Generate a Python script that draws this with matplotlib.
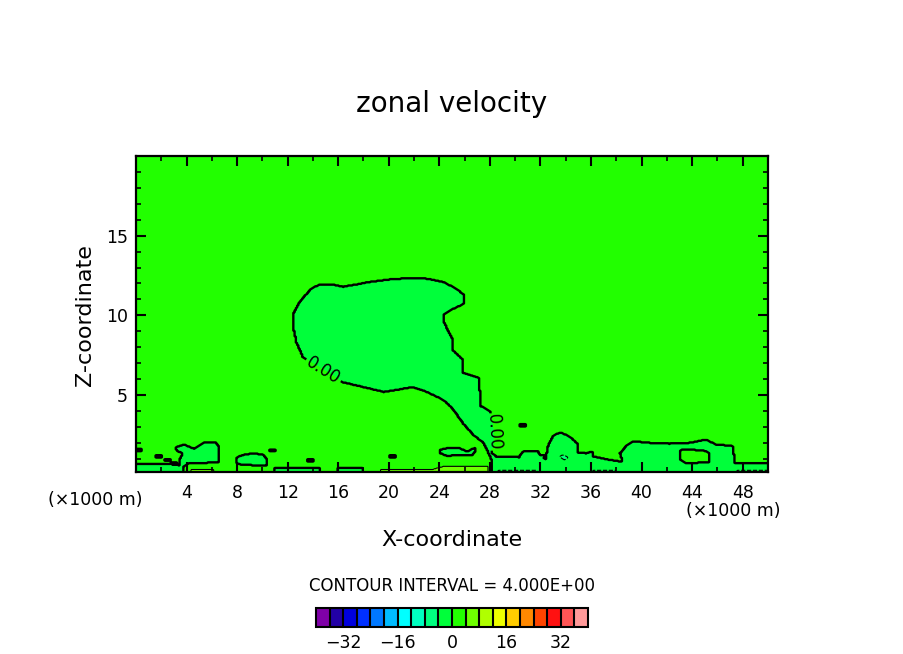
import numpy as np
import matplotlib
matplotlib.use('Agg')
import matplotlib.pyplot as plt
from matplotlib.path import Path

plt.rcParams['font.family'] = ['DejaVu Sans']

# 色阶：-40 到 40，间隔 4（共 20 色）
levels = np.arange(-40, 44, 4)
level_colors = ['#7f00a8', '#2200a6', '#0000dd', '#0030ff', '#0078ff',
                '#00bbff', '#00ffff', '#00ffc0', '#00ff80', '#00ff3a',
                '#22ff00', '#6eff00', '#b0ff00', '#eeff00', '#ffcc00',
                '#ff8800', '#ff4400', '#ff1111', '#ff5555', '#ff9999']
cbar_ticks = [-32, -16, 0, 16, 32]
xticks_major = [4, 8, 12, 16, 20, 24, 28, 32, 36, 40, 44, 48]
yticks_major = [5, 10, 15]

# 背景风速 (0~4 之间)
background_u = 2.0

# 负风速主区域：羽状体 + 茎 + 右下近地层
plume_u = -2.0
plume_x = [13.2, 12.7, 12.4, 12.5, 13.0, 13.9, 14.6, 15.5, 16.4, 17.5, 18.5, 20.0,
           21.9, 23.0, 24.3, 25.3, 26.0, 25.9, 25.2, 24.4, 24.3, 24.6, 25.0, 25.1,
           25.9, 25.9, 27.1, 27.2, 27.3, 28.0, 28.3, 28.4, 28.1, 28.5, 30.3, 30.6,
           31.8, 32.0, 32.4, 32.6, 33.0, 33.6, 34.3, 34.9, 35.0, 35.6, 36.2, 36.1,
           37.4, 38.5, 38.3, 38.8, 39.3, 40.7, 42.2, 43.8, 45.1, 45.9, 47.2, 47.4,
           50.5, 50.5, 28.1, 28.1, 27.9, 27.5, 26.7, 25.9, 25.0, 24.3, 23.0, 21.9,
           20.8, 19.6, 18.0, 16.4, 15.0, 13.8]
plume_z = [7.4, 8.3, 9.4, 10.2, 10.9, 11.7, 11.95, 11.95, 11.8, 11.95, 12.1, 12.25,
           12.35, 12.3, 12.1, 11.7, 11.25, 10.7, 10.45, 10.1, 9.7, 9.2, 8.6, 7.8,
           7.2, 6.4, 6.1, 5.3, 4.3, 4.0, 3.0, 2.0, 1.4, 1.15, 1.1, 1.45,
           1.5, 1.2, 1.0, 1.8, 2.45, 2.65, 2.4, 1.98, 1.4, 1.35, 1.46, 1.15,
           0.95, 0.8, 1.35, 1.8, 2.1, 2.0, 1.95, 2.0, 2.2, 1.9, 1.8, 0.75,
           0.75, 0.0, 0.0, 1.0, 1.35, 2.0, 2.5, 3.2, 4.2, 4.7, 5.2, 5.5,
           5.35, 5.2, 5.5, 5.8, 6.5, 7.1]

# 近地层小块负风速
blob_a_x = [3.1, 3.8, 4.6, 5.1, 5.5, 6.3, 6.6, 6.6, 6.2, 4.1, 3.8, 3.4, 3.5, 3.7, 3.3]
blob_a_z = [1.7, 1.9, 1.62, 1.9, 2.05, 2.02, 1.7, 0.8, 0.77, 0.7, 0.52, 0.5, 1.04, 1.35, 1.48]
blob_b_x = [7.9, 8.0, 8.5, 9.3, 10.1, 10.4, 10.3, 8.3]
blob_b_z = [0.73, 1.1, 1.25, 1.35, 1.25, 0.94, 0.56, 0.63]
blob_c_x = [24.1, 24.5, 25.6, 26.2, 26.8, 26.9, 26.6, 24.6, 24.05]
blob_c_z = [1.56, 1.65, 1.67, 1.46, 1.67, 1.5, 1.25, 1.19, 1.35]
strip_x = [-0.5, 2.5, 3.4, 3.8, 3.8, -0.5]
strip_z = [0.68, 0.68, 0.6, 0.5, 0.0, 0.0]
floor_neg_x = [[10.9, 14.6, 14.6, 10.9], [15.9, 18.0, 18.0, 15.9]]
floor_neg_z = [[0.45, 0.45, 0.0, 0.0], [0.45, 0.45, 0.0, 0.0]]
# 零星的小负值点
dot_x = [0.2, 1.8, 2.5, 3.0, 10.8, 13.8, 20.3, 30.6, 32.1]
dot_z = [1.56, 1.15, 0.94, 0.73, 1.52, 0.9, 1.15, 3.1, 1.15]

# 负区中的正值岛
island_u = 2.0
island_x = [43.0, 43.3, 44.9, 45.4, 45.3, 43.5, 43.1]
island_z = [1.46, 1.6, 1.52, 1.35, 0.77, 0.73, 0.94]

# 地面附近的 4~8 区（黄绿）
yg_u = 6.0
yg_x = [[4.3, 6.2, 6.2, 4.3], [19.4, 23.5, 24.5, 27.9, 27.9, 19.4]]
yg_z = [[0.33, 0.33, 0.0, 0.0], [0.33, 0.35, 0.55, 0.55, 0.0, 0.0]]

# 地面附近的 -8~-4 区（虚线）
teal_u = -6.0
teal_x = [[28.6, 31.8, 31.8, 28.6], [36.1, 38.0, 38.0, 36.1], [47.5, 50.5, 50.5, 47.5],
          [33.5, 33.8, 34.2, 33.9]]
teal_z = [[0.3, 0.3, 0.0, 0.0], [0.3, 0.3, 0.0, 0.0], [0.3, 0.3, 0.0, 0.0],
          [1.1, 1.25, 1.1, 0.94]]


x = np.arange(0, 50.05, 0.1)
z = np.arange(0.15, 20.05, 0.05)
X, Z = np.meshgrid(x, z)
pts = np.column_stack([X.ravel(), Z.ravel()])
U = np.full(X.shape, background_u)


def fill(px, pz, val):
    inside = Path(np.column_stack([px, pz])).contains_points(pts).reshape(X.shape)
    U[inside] = val


fill(plume_x, plume_z, plume_u)
for px, pz in [(blob_a_x, blob_a_z), (blob_b_x, blob_b_z), (blob_c_x, blob_c_z), (strip_x, strip_z)]:
    fill(px, pz, plume_u)
for px, pz in zip(floor_neg_x, floor_neg_z):
    fill(px, pz, plume_u)
for dx, dz in zip(dot_x, dot_z):
    fill([dx - 0.2, dx + 0.2, dx + 0.2, dx - 0.2], [dz - 0.06, dz - 0.06, dz + 0.06, dz + 0.06], plume_u)
fill(island_x, island_z, island_u)
for px, pz in zip(yg_x, yg_z):
    fill(px, pz, yg_u)
for px, pz in zip(teal_x, teal_z):
    fill(px, pz, teal_u)

fig = plt.figure(figsize=(9.04, 6.54), dpi=100)
ax = fig.add_axes([0.1504, 0.2783, 0.6991, 0.4832])

cf = ax.contourf(X, Z, U, levels=levels, colors=level_colors)
ax.contour(X, Z, U, levels=[-4], colors='k', linewidths=0.8, linestyles='dashed')
ax.contour(X, Z, U, levels=[4], colors='k', linewidths=0.8, linestyles='solid')
cs0 = ax.contour(X, Z, U, levels=[0], colors='k', linewidths=1.7, linestyles='solid')
ax.clabel(cs0, fmt='%.2f', fontsize=12, inline=True, inline_spacing=2,
          manual=[(14.8, 6.5), (28.3, 2.7)])

ax.set_xlim(0, 50)
ax.set_ylim(0.17, 20)
ax.set_xticks(xticks_major)
ax.set_xticks(np.arange(2, 50, 4), minor=True)
ax.set_yticks(yticks_major)
ax.set_yticks(np.arange(1, 20, 1), minor=True)
ax.tick_params(which='major', direction='in', top=True, right=True, length=7, width=1.5,
               labelsize=12.5)
ax.tick_params(which='minor', direction='in', top=True, right=True, length=3.5, width=1.2)
ax.tick_params(axis='x', which='major', pad=9)
ax.tick_params(axis='y', which='major', pad=6)
for sp in ax.spines.values():
    sp.set_linewidth(1.6)

fig.text(0.5, 0.841, 'zonal velocity', ha='center', va='center', fontsize=20)
fig.text(0.105, 0.2355, '(×1000 m)', ha='center', va='center', fontsize=12.5)
fig.text(0.811, 0.2187, '(×1000 m)', ha='center', va='center', fontsize=12.5)
fig.text(0.5, 0.1743, 'X-coordinate', ha='center', va='center', fontsize=16)
fig.text(0.094, 0.518, 'Z-coordinate', ha='center', va='center', fontsize=16, rotation=90)
fig.text(0.5, 0.104, 'CONTOUR INTERVAL = 4.000E+00', ha='center', va='center', fontsize=12)

cax = fig.add_axes([0.3496, 0.0417, 0.3009, 0.0281])
cb = fig.colorbar(cf, cax=cax, orientation='horizontal', drawedges=True, ticks=cbar_ticks)
cb.dividers.set_linewidth(1.5)
cb.outline.set_linewidth(1.5)
cax.tick_params(length=0, labelsize=12.5, pad=5)

fig.savefig('out.png', dpi=100)
